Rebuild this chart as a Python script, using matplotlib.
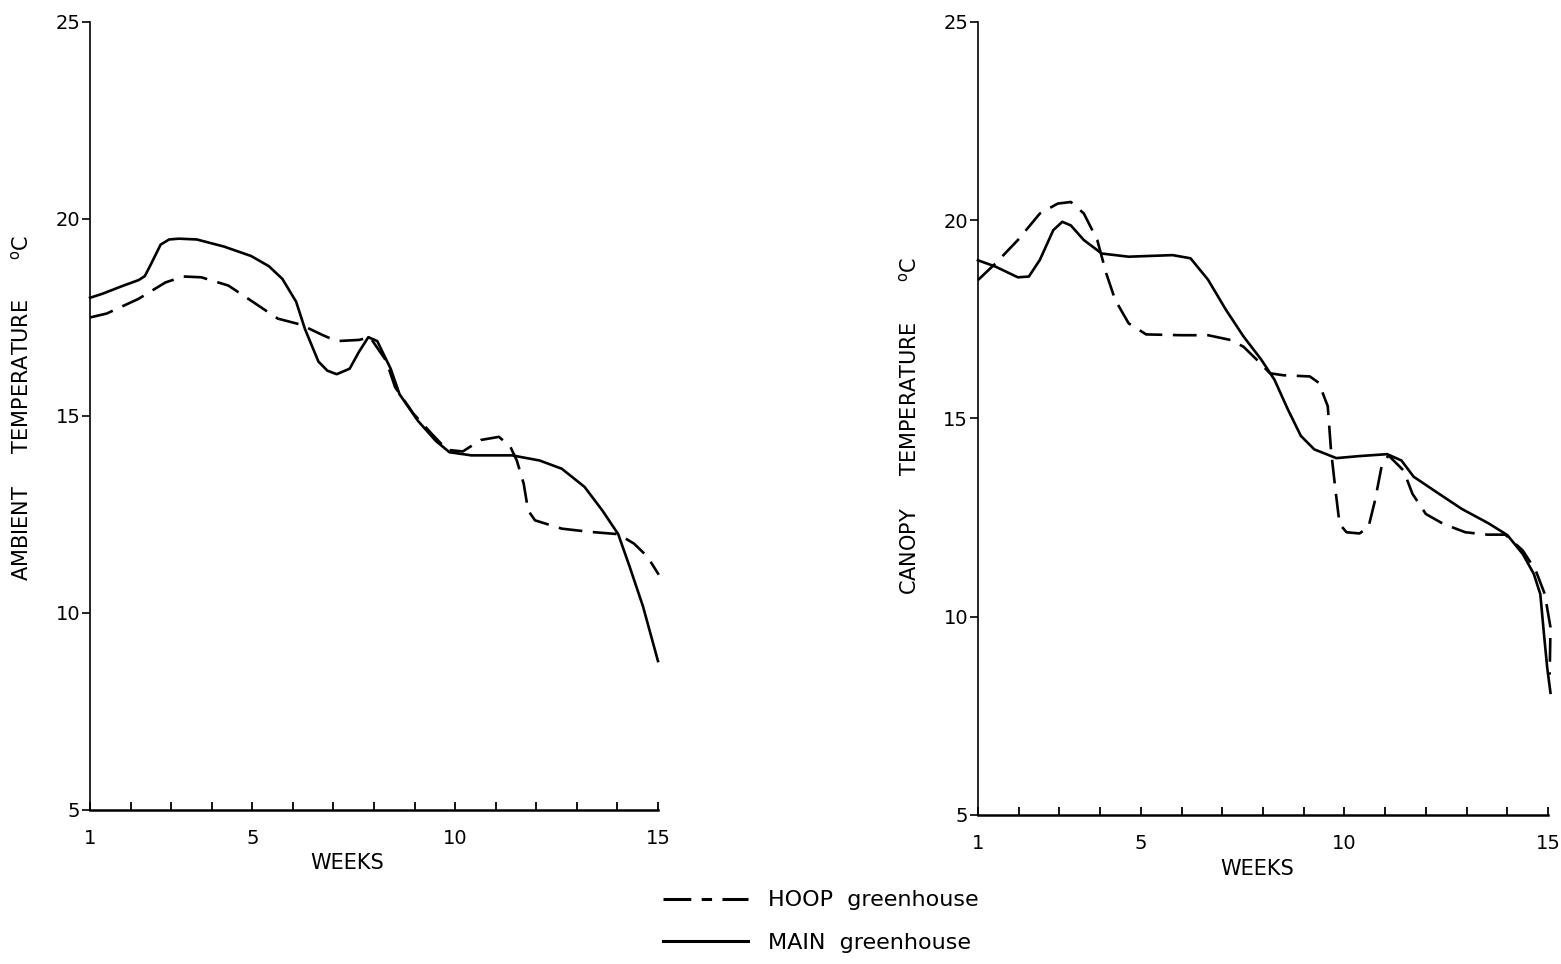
import matplotlib
matplotlib.use("Agg")
import matplotlib.pyplot as plt
from matplotlib.lines import Line2D

# weekly temperature traces (deg C)
amb_main_wk = [1.0, 1.3, 1.8, 2.2, 2.35, 2.5, 2.74, 2.95, 3.19, 3.63, 4.3, 4.97, 5.41, 5.74, 6.08,
               6.3, 6.63, 6.85, 7.08, 7.4, 7.63, 7.86, 8.08, 8.41, 8.63, 9.08, 9.52, 9.86,
               10.4, 11.4, 12.08, 12.63, 13.19, 13.63, 14.02, 14.3, 14.63, 15.0]
amb_main_t = [18.0, 18.1, 18.3, 18.45, 18.55, 18.85, 19.35, 19.48, 19.5, 19.48, 19.3, 19.06, 18.8, 18.48, 17.9,
              17.2, 16.38, 16.15, 16.06, 16.2, 16.63, 17.0, 16.9, 16.2, 15.55, 14.88, 14.37, 14.08,
              14.0, 14.0, 13.87, 13.66, 13.2, 12.6, 12.0, 11.18, 10.17, 8.78]

amb_hoop_wk = [1.0, 1.41, 2.19, 2.86, 3.3, 3.74, 4.41, 5.08, 5.63, 6.19, 6.74, 7.08, 7.63,
               7.9, 8.3, 8.52, 8.97, 9.41, 9.8, 10.19, 10.63, 11.08, 11.36, 11.52, 11.69,
               11.8, 11.97, 12.63, 13.3, 14.02, 14.41, 14.74, 15.02]
amb_hoop_t = [17.5, 17.6, 17.97, 18.39, 18.54, 18.52, 18.31, 17.85, 17.47, 17.32, 17.05, 16.9, 16.93,
              17.0, 16.4, 15.73, 15.06, 14.56, 14.14, 14.1, 14.39, 14.47, 14.22, 13.87, 13.28,
              12.6, 12.35, 12.14, 12.06, 12.0, 11.76, 11.43, 10.97]

can_main_wk = [1.0, 1.43, 1.98, 2.25, 2.52, 2.85, 3.07, 3.28, 3.6, 4.04, 4.7, 5.78, 6.22,
               6.65, 7.09, 7.52, 7.96, 8.28, 8.61, 8.93, 9.26, 9.8, 10.35, 11.05, 11.4,
               11.7, 12.25, 12.88, 13.53, 14.0, 14.38, 14.65, 14.81, 14.9, 14.98, 15.06]
can_main_t = [18.99, 18.83, 18.56, 18.58, 19.0, 19.75, 19.96, 19.87, 19.5, 19.16, 19.08, 19.12, 19.04,
              18.5, 17.74, 17.07, 16.48, 15.98, 15.23, 14.56, 14.22, 14.0, 14.05, 14.1, 13.94,
              13.53, 13.15, 12.72, 12.36, 12.06, 11.58, 11.08, 10.57, 9.56, 8.71, 8.08]

can_hoop_wk = [1.0, 1.43, 1.98, 2.52, 2.96, 3.28, 3.6, 3.93, 4.15, 4.37, 4.7, 5.13, 6.0,
               6.65, 7.2, 7.52, 7.85, 8.17, 8.5, 9.15, 9.37, 9.59, 9.67, 9.78, 9.88,
               10.05, 10.37, 10.59, 10.75, 10.91, 11.08, 11.45, 11.67, 12.0, 12.43, 12.97,
               13.51, 13.95, 14.38, 14.7, 14.92, 15.06, 15.04]
can_hoop_t = [18.49, 18.91, 19.5, 20.17, 20.42, 20.46, 20.17, 19.5, 18.66, 17.99, 17.4, 17.12, 17.1,
              17.1, 16.98, 16.81, 16.48, 16.14, 16.09, 16.06, 15.9, 15.31, 14.2, 13.19, 12.34,
              12.13, 12.1, 12.26, 12.93, 13.78, 14.07, 13.69, 13.1, 12.59, 12.34, 12.13,
              12.07, 12.07, 11.67, 11.16, 10.57, 9.73, 8.54]

week_ticks = list(range(1, 16))
week_labels = ["1", "", "", "", "5", "", "", "", "", "10", "", "", "", "", "15"]
temp_ticks = [5, 10, 15, 20, 25]

plt.rcParams["font.family"] = "DejaVu Sans"

fig = plt.figure(figsize=(15.61, 9.64), dpi=100)
ax1 = fig.add_axes([0.0577, 0.1598, 0.3638, 0.8174])
ax2 = fig.add_axes([0.6265, 0.1546, 0.3652, 0.8226])

DASH = (9, 4)
LW = 1.9


def setup(ax, ylabel, label_y, weeks_x):
    ax.set_xlim(1, 15)
    ax.set_ylim(5, 25)
    for s in ("top", "right"):
        ax.spines[s].set_visible(False)
    ax.spines["left"].set_linewidth(1.2)
    ax.spines["bottom"].set_linewidth(1.8)
    ax.set_xticks(week_ticks)
    ax.set_xticklabels(week_labels)
    ax.set_yticks(temp_ticks)
    ax.tick_params(axis="x", direction="in", length=6, width=1.3, pad=14, labelsize=14)
    ax.tick_params(axis="y", direction="out", length=6, width=1.2, pad=1, labelsize=14)
    ax.set_xlabel("WEEKS", fontsize=15)
    ax.xaxis.set_label_coords(weeks_x, -0.055)
    ax.set_ylabel(ylabel, fontsize=15)
    ax.yaxis.set_label_coords(-0.101, label_y)


ax1.plot(amb_main_wk, amb_main_t, color="black", lw=LW, solid_joinstyle="round", clip_on=False)
ax1.plot(amb_hoop_wk, amb_hoop_t, color="black", lw=LW, dashes=DASH, clip_on=False)
setup(ax1, "AMBIENT     TEMPERATURE      $^{\\rm o}$C", 0.51, 0.452)

ax2.plot(can_main_wk, can_main_t, color="black", lw=LW, solid_joinstyle="round", clip_on=False)
ax2.plot(can_hoop_wk, can_hoop_t, color="black", lw=LW, dashes=DASH, clip_on=False)
setup(ax2, "CANOPY     TEMPERATURE      $^{\\rm o}$C", 0.49, 0.49)

handles = [Line2D([], [], color="black", lw=2.2, dashes=(9.1, 3.4, 3.4, 3.4)),
           Line2D([], [], color="black", lw=2.2)]
fig.legend(handles, ["HOOP  greenhouse", "MAIN  greenhouse"],
           loc="upper left", bbox_to_anchor=(0.412, 0.097), frameon=False,
           fontsize=16, handlelength=3.8, handletextpad=0.9, labelspacing=1.0)

fig.savefig("out.png", dpi=100, facecolor="white")
